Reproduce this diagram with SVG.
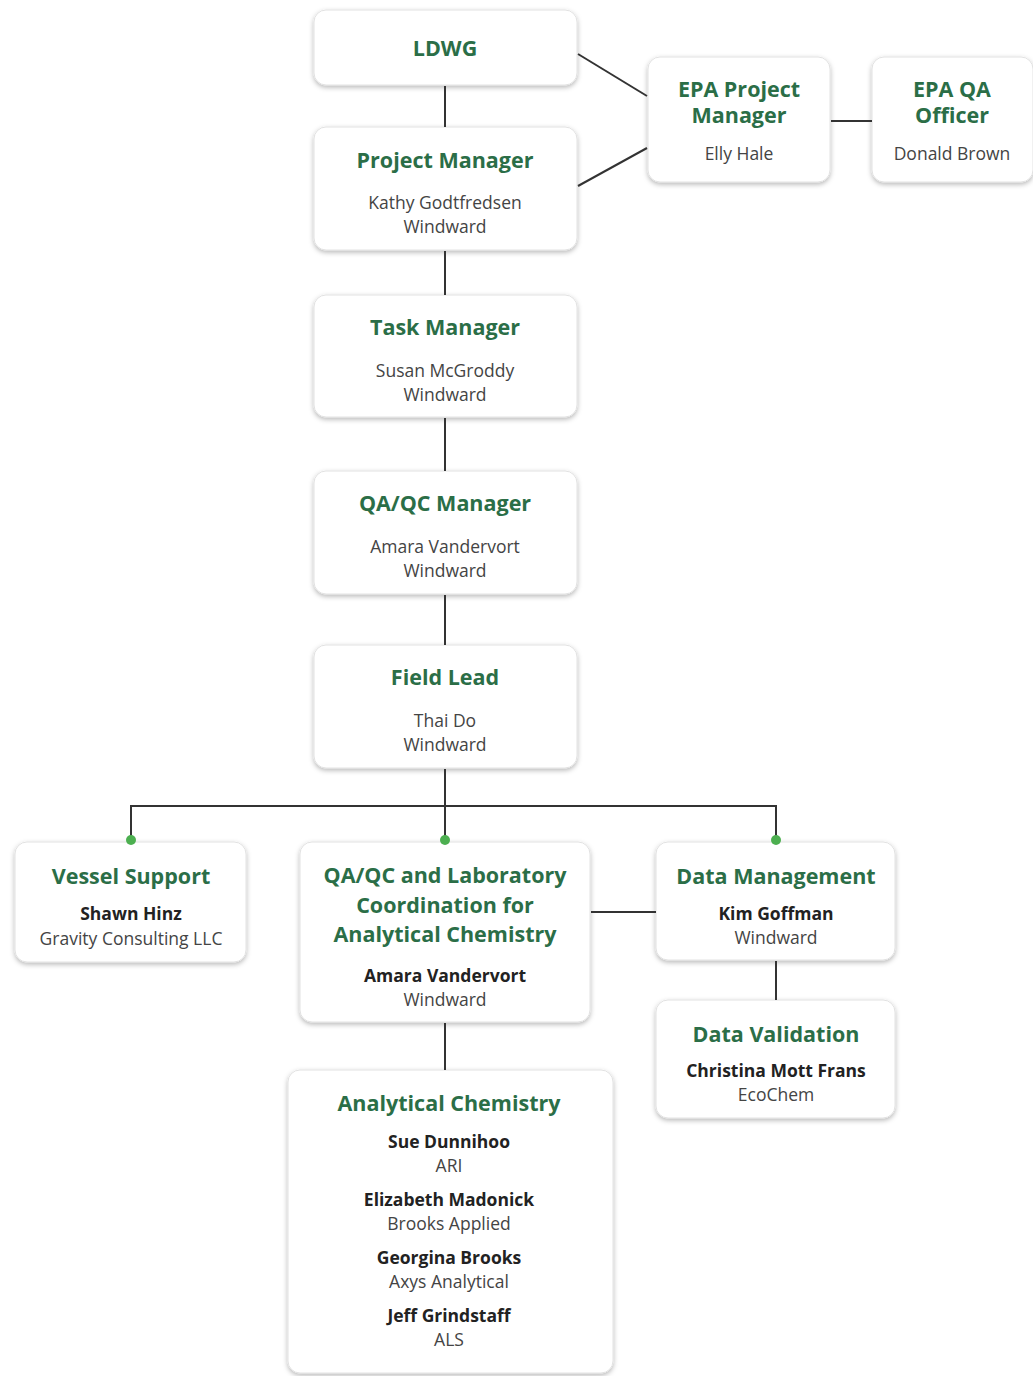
<svg xmlns="http://www.w3.org/2000/svg" width="1033" height="1376" viewBox="0 0 1033 1376">
<defs>
<filter id="sh" x="-10%" y="-10%" width="120%" height="125%">
<feDropShadow dx="0" dy="2" stdDeviation="2.5" flood-color="#000" flood-opacity="0.28"/>
</filter>
<style>
.box{fill:#fff;stroke:#e2e2e2;stroke-width:1;filter:url(#sh)}
.t{font-family:"Open Sans","Noto Sans",sans-serif;font-weight:bold;font-size:21.5px;fill:#2b6e47;text-anchor:middle}
.n{font-family:"Open Sans","Noto Sans",sans-serif;font-size:17.5px;fill:#444;text-anchor:middle}
.b{font-family:"Open Sans","Noto Sans",sans-serif;font-weight:bold;font-size:17.5px;fill:#222;text-anchor:middle}
.c{stroke:#333;stroke-width:2;fill:none}
.d{fill:#4caf50}
</style>
</defs>
<rect width="1033" height="1376" fill="#fff"/>
<g id="ldwg"><rect class="box" x="314" y="10" width="263" height="75" rx="12"/>
<text class="t" x="445" y="56">LDWG</text></g>
<g id="pm"><rect class="box" x="314" y="127" width="263" height="123" rx="12"/>
<text class="t" x="445" y="168">Project Manager</text>
<text class="n" x="445" y="209">Kathy Godtfredsen</text>
<text class="n" x="445" y="233">Windward</text></g>
<g id="tm"><rect class="box" x="314" y="295" width="263" height="122" rx="12"/>
<text class="t" x="445" y="335">Task Manager</text>
<text class="n" x="445" y="377">Susan McGroddy</text>
<text class="n" x="445" y="401">Windward</text></g>
<g id="qaqc"><rect class="box" x="314" y="471" width="263" height="123" rx="12"/>
<text class="t" x="445" y="511">QA/QC Manager</text>
<text class="n" x="445" y="553">Amara Vandervort</text>
<text class="n" x="445" y="577">Windward</text></g>
<g id="field"><rect class="box" x="314" y="645" width="263" height="123" rx="12"/>
<text class="t" x="445" y="685">Field Lead</text>
<text class="n" x="445" y="727">Thai Do</text>
<text class="n" x="445" y="751">Windward</text></g>
<g id="epapm"><rect class="box" x="648" y="57" width="182" height="125" rx="12"/>
<text class="t" x="739" y="97">EPA Project</text>
<text class="t" x="739" y="123">Manager</text>
<text class="n" x="739" y="160">Elly Hale</text></g>
<g id="epaqa"><rect class="box" x="872" y="57" width="161" height="125" rx="12"/>
<text class="t" x="952" y="97">EPA QA</text>
<text class="t" x="952" y="123">Officer</text>
<text class="n" x="952" y="160">Donald Brown</text></g>
<g id="vessel"><rect class="box" x="15" y="842" width="231" height="120" rx="12"/>
<text class="t" x="131" y="884">Vessel Support</text>
<text class="b" x="131" y="920">Shawn Hinz</text>
<text class="n" x="131" y="945">Gravity Consulting LLC</text></g>
<g id="qaqclab"><rect class="box" x="300" y="842" width="290" height="180" rx="12"/>
<text class="t" x="445" y="883">QA/QC and Laboratory</text>
<text class="t" x="445" y="913">Coordination for</text>
<text class="t" x="445" y="942">Analytical Chemistry</text>
<text class="b" x="445" y="982">Amara Vandervort</text>
<text class="n" x="445" y="1006">Windward</text></g>
<g id="datamgmt"><rect class="box" x="656" y="842" width="239" height="118" rx="12"/>
<text class="t" x="776" y="884">Data Management</text>
<text class="b" x="776" y="920">Kim Goffman</text>
<text class="n" x="776" y="944">Windward</text></g>
<g id="dataval"><rect class="box" x="656" y="1000" width="239" height="118" rx="12"/>
<text class="t" x="776" y="1042">Data Validation</text>
<text class="b" x="776" y="1077">Christina Mott Frans</text>
<text class="n" x="776" y="1101">EcoChem</text></g>
<g id="analchem"><rect class="box" x="288" y="1070" width="325" height="303" rx="12"/>
<text class="t" x="449" y="1111">Analytical Chemistry</text>
<text class="b" x="449" y="1148">Sue Dunnihoo</text>
<text class="n" x="449" y="1172">ARI</text>
<text class="b" x="449" y="1206">Elizabeth Madonick</text>
<text class="n" x="449" y="1230">Brooks Applied</text>
<text class="b" x="449" y="1264">Georgina Brooks</text>
<text class="n" x="449" y="1288">Axys Analytical</text>
<text class="b" x="449" y="1322">Jeff Grindstaff</text>
<text class="n" x="449" y="1346">ALS</text></g>
<g id="connectors">
<line class="c" x1="445" y1="86" x2="445" y2="127"/>
<line class="c" x1="578" y1="54" x2="647" y2="96"/>
<line class="c" x1="578" y1="186" x2="647" y2="148"/>
<line class="c" x1="831" y1="121" x2="872" y2="121"/>
<line class="c" x1="445" y1="251" x2="445" y2="295"/>
<line class="c" x1="445" y1="418" x2="445" y2="471"/>
<line class="c" x1="445" y1="595" x2="445" y2="645"/>
<line class="c" x1="445" y1="769" x2="445" y2="840"/>
<polyline class="c" points="131,840 131,806 776,806 776,840"/>
<circle class="d" cx="131" cy="840" r="5"/>
<circle class="d" cx="445" cy="840" r="5"/>
<circle class="d" cx="776" cy="840" r="5"/>
<line class="c" x1="591" y1="912" x2="656" y2="912"/>
<line class="c" x1="776" y1="961" x2="776" y2="1000"/>
<line class="c" x1="445" y1="1023" x2="445" y2="1070"/>
</g>
</svg>
